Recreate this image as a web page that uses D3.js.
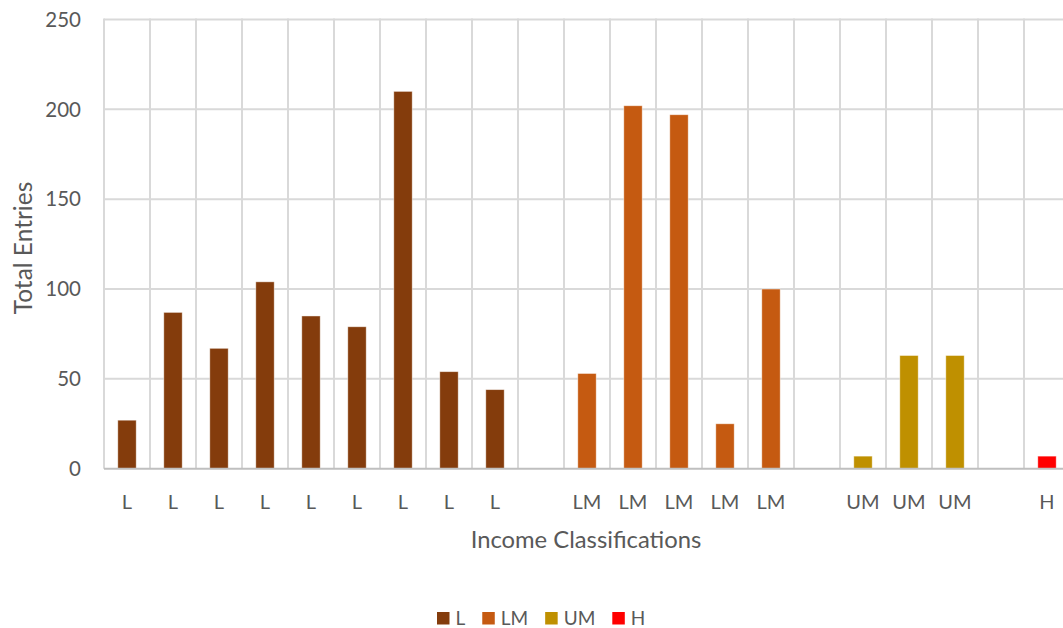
<!DOCTYPE html>
<html>
<head>
<meta charset="utf-8">
<script src="https://cdn.jsdelivr.net/npm/d3@7"></script>
<style>
  html, body { margin: 0; padding: 0; background: #fff; }
  svg { display: block; }
  text { font-family: Lato, "Open Sans", sans-serif; fill: #595959; }
</style>
</head>
<body>
<svg id="chart" width="1063" height="628"></svg>
<script>
// ---- data ----
const labels  = ["L","L","L","L","L","L","L","L","L","","LM","LM","LM","LM","LM","","UM","UM","UM","","H"];
const groups  = ["L","L","L","L","L","L","L","L","L",null,"LM","LM","LM","LM","LM",null,"UM","UM","UM",null,"H"];
const values  = [27, 87, 67, 104, 85, 79, 210, 54, 44, null, 53, 202, 197, 25, 100, null, 7, 63, 63, null, 7];
const yTicks  = [0, 50, 100, 150, 200, 250];
const legendKeys = ["L", "LM", "UM", "H"];
const legendColors = ["#843c0c", "#c55a11", "#bf9000", "#ff0000"];
const xTitle = "Income Classifications";
const yTitle = "Total Entries";

// ---- layout ----
const svg = d3.select("#chart");
const pLeft = 104, pRight = 1070, pTop = 19.5, pBottom = 468.7;

const idx = labels.map((d, i) => i);
const x = d3.scaleBand().domain(idx).range([pLeft, pRight]).paddingInner(0.6).paddingOuter(0.3);
const y = d3.scaleLinear().domain([0, 250]).range([pBottom, pTop]);
const color = d3.scaleOrdinal().domain(legendKeys).range(legendColors);

const step = x.step();
const bandStart = x.range()[0];

// horizontal gridlines
svg.append("g").selectAll("line").data(yTicks.filter(t => t > 0)).join("line")
  .attr("x1", pLeft).attr("x2", pRight)
  .attr("y1", d => y(d)).attr("y2", d => y(d))
  .attr("stroke", "#d9d9d9").attr("stroke-width", 2);

// vertical gridlines at category boundaries
const bounds = d3.range(labels.length + 1).map(i => bandStart + i * step);
svg.append("g").selectAll("line").data(bounds).join("line")
  .attr("x1", d => d).attr("x2", d => d)
  .attr("y1", y(250) - 1).attr("y2", y(0))
  .attr("stroke", "#d9d9d9").attr("stroke-width", 2);

// bars
svg.append("g").selectAll("rect")
  .data(idx.filter(i => values[i] != null))
  .join("rect")
  .attr("x", i => x(i))
  .attr("width", x.bandwidth())
  .attr("y", i => y(values[i]))
  .attr("height", i => y(0) - y(values[i]))
  .attr("fill", i => color(groups[i]))
  .attr("stroke", "#ffffff").attr("stroke-opacity", 0.55).attr("stroke-width", 0.8);

// x axis line
svg.append("line")
  .attr("x1", pLeft).attr("x2", pRight)
  .attr("y1", y(0)).attr("y2", y(0))
  .attr("stroke", "#bfbfbf").attr("stroke-width", 2);

// y tick labels
svg.append("g").selectAll("text").data(yTicks).join("text")
  .attr("x", 81).attr("y", d => y(d))
  .attr("dy", "0.35em")
  .attr("text-anchor", "end")
  .attr("font-size", 20.5)
  .text(d => d);

// x tick labels
svg.append("g").selectAll("text").data(idx).join("text")
  .attr("x", i => x(i) + x.bandwidth() / 2)
  .attr("y", 502)
  .attr("dy", "0.35em")
  .attr("text-anchor", "middle")
  .attr("font-size", 20)
  .text(i => labels[i]);

// axis titles
svg.append("text")
  .attr("x", 586).attr("y", 540)
  .attr("dy", "0.35em")
  .attr("text-anchor", "middle")
  .attr("font-size", 23.8)
  .text(xTitle);

svg.append("text")
  .attr("transform", "translate(23,248) rotate(-90)")
  .attr("dy", "0.35em")
  .attr("text-anchor", "middle")
  .attr("font-size", 24.5)
  .text(yTitle);

// legend
const lg = svg.append("g");
let lx = 437;
legendKeys.forEach((k, i) => {
  lg.append("rect")
    .attr("x", lx).attr("y", 612)
    .attr("width", 12.5).attr("height", 12.5)
    .attr("fill", legendColors[i]);
  const t = lg.append("text")
    .attr("x", lx + 18.5).attr("y", 618)
    .attr("dy", "0.35em")
    .attr("font-size", 19)
    .text(k);
  lx += 18.5 + t.node().getComputedTextLength() + 17;
});
</script>
</body>
</html>
